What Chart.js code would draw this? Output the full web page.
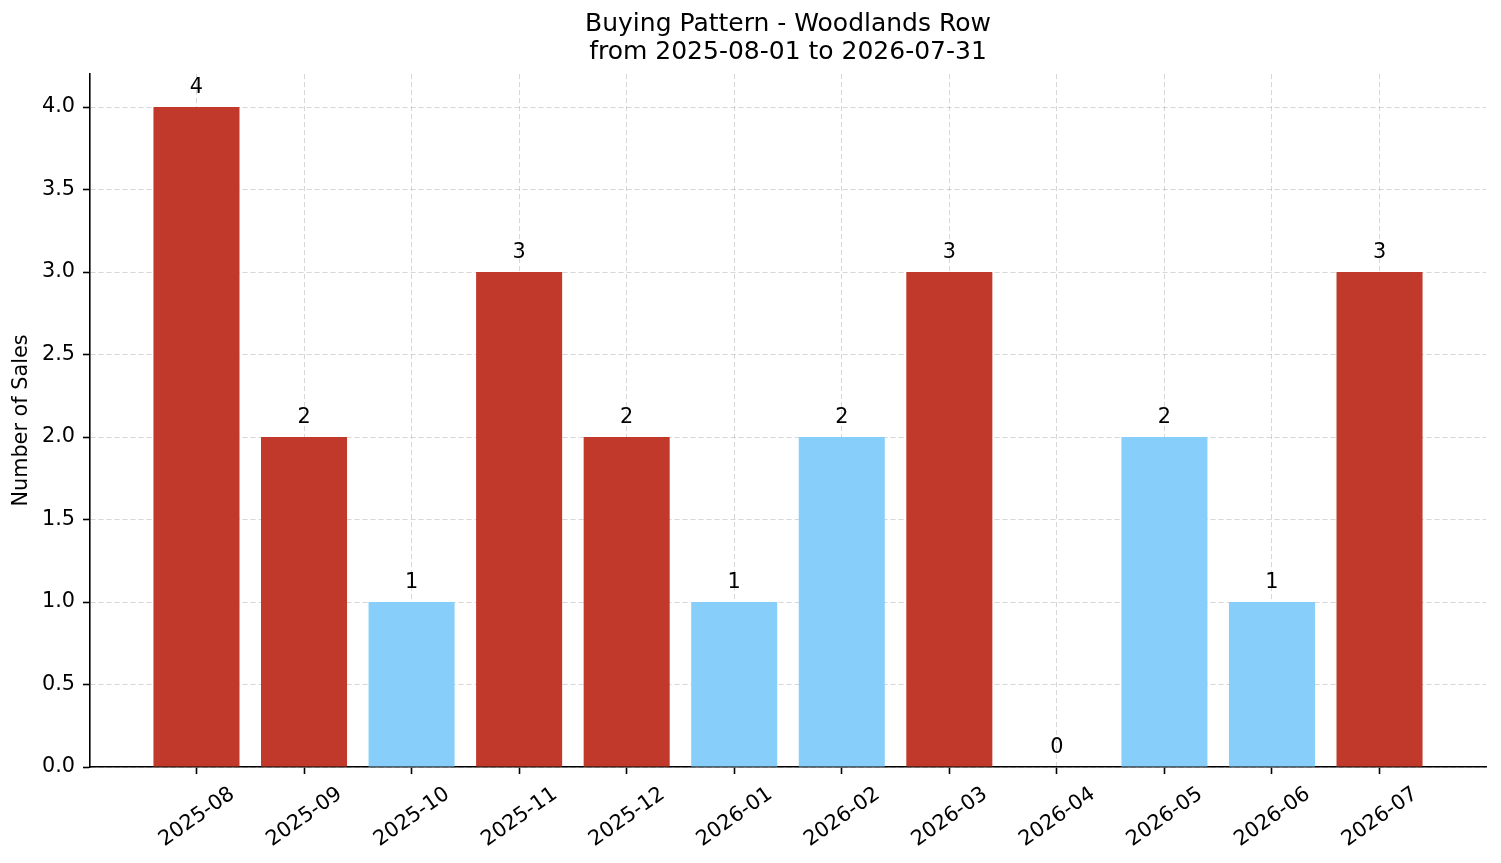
<!DOCTYPE html>
<html>
<head>
<meta charset="utf-8">
<title>Buying Pattern - Woodlands Row</title>
<script src="https://cdn.jsdelivr.net/npm/chart.js@4"></script>
<style>
    html, body { margin: 0; padding: 0; background: #fff; }
    #wrap { width: 1501px; height: 863px; position: relative; }
</style>
</head>
<body>
<div id="wrap"><canvas id="sales-chart"></canvas></div>
<script>
// Months shown on the x axis
const months = ['2025-08', '2025-09', '2025-10', '2025-11', '2025-12', '2026-01',
                '2026-02', '2026-03', '2026-04', '2026-05', '2026-06', '2026-07'];

// Number of sales per month
const sales = [4, 2, 1, 3, 2, 1, 2, 3, 0, 2, 1, 3];

// Which bars are drawn in red (the rest are light blue)
const highlighted = [true, true, false, true, true, false, false, true, false, false, false, true];

// Y axis tick values
const yTicks = [0, 0.5, 1.0, 1.5, 2.0, 2.5, 3.0, 3.5, 4.0];

const RED = '#c0392b';
const BLUE = '#87cefa';
const FONT = "'DejaVu Sans', sans-serif";

Chart.defaults.color = '#000';
Chart.defaults.font.family = FONT;

// Value labels above each bar, and the title centred over the plot area
const valueLabels = {
    id: 'valueLabels',
    afterLayout(chart) {
        if (chart.titleBlock) {
            chart.titleBlock.left = chart.chartArea.left;
            chart.titleBlock.right = chart.chartArea.right;
        }
    },
    afterDraw(chart) {
        const ctx = chart.ctx;
        const meta = chart.getDatasetMeta(0);
        ctx.save();
        ctx.font = '20.8px ' + FONT;
        ctx.fillStyle = '#000';
        ctx.textAlign = 'center';
        ctx.textBaseline = 'bottom';
        meta.data.forEach(function(bar, i) {
            ctx.fillText(String(sales[i]), bar.x, bar.y - 9);
        });
        ctx.restore();
    }
};

const gridColor = 'rgba(176, 176, 176, 0.5)';

new Chart(document.getElementById('sales-chart'), {
    type: 'bar',
    data: {
        datasets: [{
            data: sales.map((v, i) => ({ x: i, y: v })),
            backgroundColor: highlighted.map(h => h ? RED : BLUE),
            borderWidth: 0,
            barPercentage: 0.8,
            categoryPercentage: 1.0
        }]
    },
    options: {
        responsive: true,
        maintainAspectRatio: false,
        animation: false,
        layout: { padding: { top: 0, right: 15, bottom: 0, left: 0 } },
        plugins: {
            legend: { display: false },
            tooltip: { enabled: false },
            title: {
                display: true,
                text: ['Buying Pattern - Woodlands Row', 'from 2025-08-01 to 2026-07-31'],
                color: '#000',
                font: { size: 25, weight: 'normal', lineHeight: 1.12 },
                padding: { top: 10, bottom: 8 }
            }
        },
        scales: {
            x: {
                type: 'linear',
                min: -0.99,
                max: 11.99,
                offset: false,
                z: 1,
                afterBuildTicks(scale) {
                    scale.ticks = months.map((m, i) => ({ value: i }));
                },
                afterFit(scale) {
                    scale.height = 96;
                },
                ticks: {
                    callback: (v) => months[v],
                    autoSkip: false,
                    minRotation: 35,
                    maxRotation: 35,
                    labelOffset: 36,
                    padding: 8,
                    font: { size: 20.8 },
                    color: '#000'
                },
                grid: {
                    offset: false,
                    color: gridColor,
                    lineWidth: 1,
                    drawTicks: true,
                    tickLength: 7,
                    tickColor: '#000',
                    tickWidth: 1.6
                },
                border: { display: true, color: '#000', width: 1.6, dash: [5, 3] }
            },
            y: {
                min: 0,
                max: 4.2,
                z: 1,
                afterBuildTicks(scale) {
                    scale.ticks = yTicks.map(v => ({ value: v }));
                },
                afterFit(scale) {
                    scale.width = 90;
                },
                ticks: {
                    callback: (v) => Number(v).toFixed(1),
                    padding: 8,
                    font: { size: 20.8 },
                    color: '#000'
                },
                grid: {
                    color: gridColor,
                    lineWidth: 1,
                    drawTicks: true,
                    tickLength: 7,
                    tickColor: '#000',
                    tickWidth: 1.6
                },
                border: { display: true, color: '#000', width: 1.6, dash: [5, 3] },
                title: {
                    display: true,
                    text: 'Number of Sales',
                    color: '#000',
                    font: { size: 20.8 },
                    padding: { top: 9.5, bottom: 0 }
                }
            }
        }
    },
    plugins: [valueLabels]
});
</script>
</body>
</html>
